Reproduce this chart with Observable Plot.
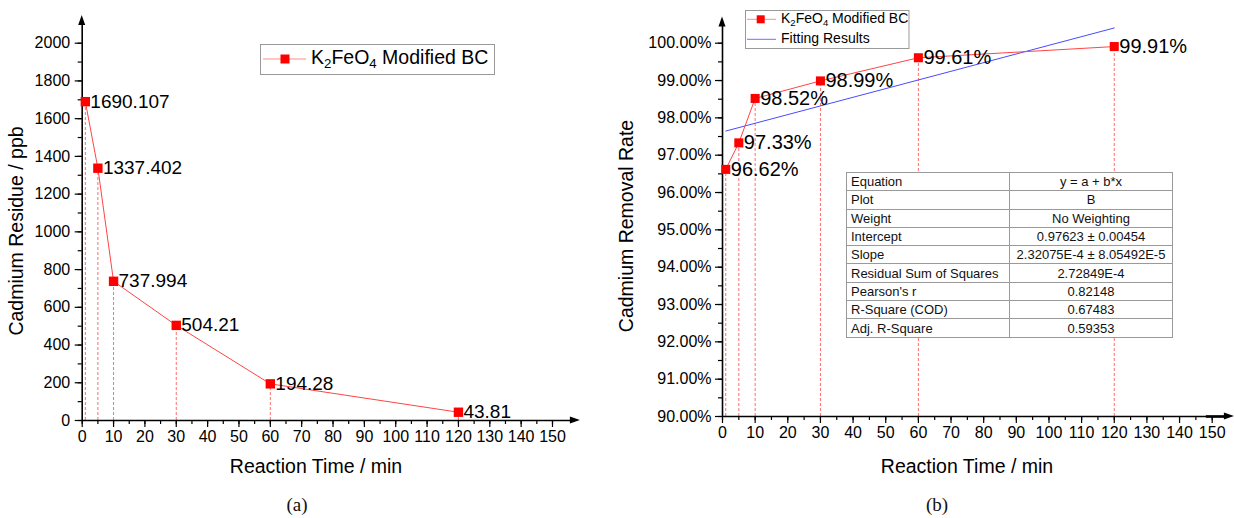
<!DOCTYPE html>
<html>
<head>
<meta charset="utf-8">
<script src="https://cdn.jsdelivr.net/npm/d3@7"></script>
<script src="https://cdn.jsdelivr.net/npm/@observablehq/plot@0.6"></script>
<style>
  body { margin: 0; background: #fff; }
  #wrap { position: relative; width: 1234px; height: 518px; background: #fff; font-family: 'Liberation Sans', Arial, sans-serif; overflow: hidden; }
  .panel { position: absolute; top: 0; }
  .cap { position: absolute; width: 100px; text-align: center; font-family: 'Liberation Serif', 'DejaVu Serif', serif; font-size: 19px; line-height: 24px; color: #111; }
  #fitTable { position: absolute; left: 846px; top: 172px; width: 326px; border-collapse: collapse; table-layout: fixed; background: #fff; font-family: 'Liberation Sans', Arial, sans-serif; font-size: 13px; color: #111; border: 1.5px solid #8a8a8a; }
  #fitTable td { border: 1px solid #9a9a9a; padding: 0 4px; height: 17.3px; line-height: 17px; white-space: nowrap; overflow: hidden; }
  #fitTable td.v { text-align: center; }
</style>
</head>
<body>
<div id="wrap">
  <div id="panelA" class="panel" style="left:0px"></div>
  <div id="panelB" class="panel" style="left:617px"></div>
  <div class="cap" style="left:247px; top:493px">(a)</div>
  <div class="cap" style="left:887px; top:493px">(b)</div>
</div>
<script>
// ---------------- data ----------------
const timeMin = [1, 5, 10, 30, 60, 120];
const residuePpb = [1690.107, 1337.402, 737.994, 504.21, 194.28, 43.81];
const removalPct = [96.62, 97.33, 98.52, 98.99, 99.61, 99.91];
const fitIntercept = 0.97623;
const fitSlope = 2.32075e-4;
const fitRange = [1, 120];

const xTicks = d3.range(0, 151, 10);
const xMinorTicks = d3.range(0, 151, 5);
const yTicksA = d3.range(0, 2001, 200);
const yMinorA = d3.range(0, 2001, 100);
const yTicksB = d3.range(90, 100.001, 1);
const yMinorB = d3.range(90, 100.001, 0.5);

const seriesName = ["K", "2", "FeO", "4", " Modified BC"];
const fitName = "Fitting Results";
const xTitle = "Reaction Time / min";
const yTitleA = "Cadmium Residue / ppb";
const yTitleB = "Cadmium Removal Rate";

const tableLabels = ["Equation", "Plot", "Weight", "Intercept", "Slope", "Residual Sum of Squares", "Pearson's r", "R-Square (COD)", "Adj. R-Square"];
const tableValues = ["y = a + b*x", "B", "No Weighting", "0.97623 ± 0.00454", "2.32075E-4 ± 8.05492E-5", "2.72849E-4", "0.82148", "0.67483", "0.59353"];

// ---------------- helpers ----------------
const FONT = "'Liberation Sans', Arial, sans-serif";
const RED = "#ff0000";
const LINE_RED = "#ff4545";
const DROP_RED = "#ff6e6e";
const BLUE = "#4a4aff";

function arrowUp(svg, x, y) {
  svg.append("path").attr("d", `M${x},${y} L${x - 3.5},${y + 10} L${x + 3.5},${y + 10} Z`).attr("fill", "#000");
}
function arrowRight(svg, x, y) {
  svg.append("path").attr("d", `M${x},${y} L${x - 10},${y - 3.5} L${x - 10},${y + 3.5} Z`).attr("fill", "#000");
}
function seriesText(g, x, y, size) {
  const t = g.append("text").attr("x", x).attr("y", y).attr("dominant-baseline", "middle")
    .attr("text-anchor", "start")
    .attr("font-family", FONT).attr("font-size", size).attr("fill", "#000");
  const sub = size * 0.68, shift = size * 0.28;
  t.append("tspan").text(seriesName[0]);
  t.append("tspan").attr("font-size", sub).attr("dy", shift).text(seriesName[1]);
  t.append("tspan").attr("dy", -shift).text(seriesName[2]);
  t.append("tspan").attr("font-size", sub).attr("dy", shift).text(seriesName[3]);
  t.append("tspan").attr("dy", -shift).text(seriesName[4]);
}
function titles(svg, yx, yy, xx, xy, yText) {
  svg.append("text").attr("transform", `translate(${yx},${yy}) rotate(-90)`)
    .attr("text-anchor", "middle").attr("dominant-baseline", "middle")
    .attr("font-family", FONT).attr("font-size", 19.5).attr("fill", "#000").text(yText);
  svg.append("text").attr("x", xx).attr("y", xy)
    .attr("text-anchor", "middle").attr("dominant-baseline", "middle")
    .attr("font-family", FONT).attr("font-size", 19.5).attr("fill", "#000").text(xTitle);
}

const plotStyle = { fontFamily: FONT, fontSize: "16px", color: "#000", background: "transparent", overflow: "visible" };

// ---------------- chart (a) ----------------
const dataA = timeMin.map((t, i) => ({ t, v: residuePpb[i] }));
const chartA = Plot.plot({
  width: 617, height: 485,
  marginLeft: 81.7, marginRight: 65, marginTop: 42.7, marginBottom: 65,
  style: plotStyle,
  x: { domain: [0, 150] },
  y: { domain: [0, 2000] },
  marks: [
    Plot.ruleX(dataA, { x: "t", y1: 0, y2: "v", stroke: DROP_RED, strokeWidth: 1, strokeDasharray: "3,2" }),
    Plot.line(dataA, { x: "t", y: "v", stroke: LINE_RED, strokeWidth: 1 }),
    Plot.axisX(xTicks, { tickSize: 7, tickPadding: 3, label: null, strokeWidth: 1.2 }),
    Plot.axisX(xMinorTicks, { tickSize: 4, tickFormat: () => "", label: null, strokeWidth: 1.2 }),
    Plot.axisY(yTicksA, { tickSize: 7, tickPadding: 5, label: null, strokeWidth: 1.2, tickFormat: d => String(d) }),
    Plot.axisY(yMinorA, { tickSize: 4, tickFormat: () => "", label: null, strokeWidth: 1.2 }),
    Plot.ruleY([0], { x1: 0, x2: 156, stroke: "#000", strokeWidth: 1.6 }),
    Plot.ruleX([0], { y1: 0, y2: 2110, stroke: "#000", strokeWidth: 1.6 }),
    Plot.dot(dataA, { x: "t", y: "v", symbol: "square", r: 5.3, fill: RED }),
    Plot.text(dataA, { x: "t", y: "v", text: d => String(d.v), textAnchor: "start", dx: 5, fontSize: 19, fill: "#000" })
  ]
});
document.getElementById("panelA").appendChild(chartA);
{
  const svg = d3.select(chartA);
  const sx = chartA.scale("x"), sy = chartA.scale("y");
  arrowUp(svg, sx.apply(0), sy.apply(2147));
  arrowRight(svg, sx.apply(158.9), sy.apply(0));
  titles(svg, 18, 231, 316, 468, yTitleA);
  const lg = svg.append("g");
  lg.append("rect").attr("x", 260.5).attr("y", 44.5).attr("width", 234).attr("height", 30)
    .attr("fill", "#fff").attr("stroke", "#999").attr("stroke-width", 1);
  lg.append("line").attr("x1", 263).attr("x2", 306).attr("y1", 59).attr("y2", 59).attr("stroke", "#ff8a8a").attr("stroke-width", 1);
  lg.append("rect").attr("x", 280.5).attr("y", 54.5).attr("width", 9).attr("height", 9).attr("fill", RED);
  seriesText(lg, 311, 59, 19.5);
}

// ---------------- chart (b) ----------------
const dataB = timeMin.map((t, i) => ({ t, v: removalPct[i] }));
const fitPts = fitRange.map(t => ({ t, v: 100 * (fitIntercept + fitSlope * t) }));
const chartB = Plot.plot({
  width: 617, height: 485,
  marginLeft: 105, marginRight: 22.3, marginTop: 42.7, marginBottom: 69,
  style: plotStyle,
  x: { domain: [0, 150] },
  y: { domain: [90, 100] },
  marks: [
    Plot.ruleX(dataB, { x: "t", y1: 90, y2: "v", stroke: DROP_RED, strokeWidth: 1, strokeDasharray: "3,2" }),
    Plot.line(fitPts, { x: "t", y: "v", stroke: BLUE, strokeWidth: 1 }),
    Plot.line(dataB, { x: "t", y: "v", stroke: LINE_RED, strokeWidth: 1 }),
    Plot.axisX(xTicks, { tickSize: 7, tickPadding: 3, label: null, strokeWidth: 1.2 }),
    Plot.axisX(xMinorTicks, { tickSize: 4, tickFormat: () => "", label: null, strokeWidth: 1.2 }),
    Plot.axisY(yTicksB, { tickSize: 7, tickPadding: 4, label: null, strokeWidth: 1.2, tickFormat: d => d.toFixed(2) + "%" }),
    Plot.axisY(yMinorB, { tickSize: 4, tickFormat: () => "", label: null, strokeWidth: 1.2 }),
    Plot.ruleY([90], { x1: 0, x2: 154, stroke: "#000", strokeWidth: 1.6 }),
    Plot.ruleY([90], { x1: 148.2, x2: 154, stroke: "#000", strokeWidth: 2.6 }),
    Plot.ruleX([0], { y1: 90, y2: 100.45, stroke: "#000", strokeWidth: 1.6 }),
    Plot.dot(dataB, { x: "t", y: "v", symbol: "square", r: 5.1, fill: RED }),
    Plot.text(dataB, { x: "t", y: "v", text: d => d.v.toFixed(2) + "%", textAnchor: "start", dx: 5, fontSize: 20, fill: "#000" })
  ]
});
document.getElementById("panelB").appendChild(chartB);
{
  const svg = d3.select(chartB);
  const sx = chartB.scale("x"), sy = chartB.scale("y");
  arrowUp(svg, sx.apply(0), sy.apply(100.7));
  arrowRight(svg, sx.apply(156.8), sy.apply(90));
  titles(svg, 11, 226, 350, 468, yTitleB);
  const lg = svg.append("g");
  lg.append("rect").attr("x", 128.5).attr("y", 10.5).attr("width", 163.5).attr("height", 38)
    .attr("fill", "#fff").attr("stroke", "#999").attr("stroke-width", 1);
  lg.append("line").attr("x1", 130).attr("x2", 159).attr("y1", 19.3).attr("y2", 19.3).attr("stroke", "#ff8a8a").attr("stroke-width", 1);
  lg.append("rect").attr("x", 139.7).attr("y", 15.3).attr("width", 8).attr("height", 8).attr("fill", RED);
  seriesText(lg, 164, 19.3, 14);
  lg.append("line").attr("x1", 130).attr("x2", 159).attr("y1", 39.3).attr("y2", 39.3).attr("stroke", "#7070ff").attr("stroke-width", 1);
  lg.append("text").attr("x", 164).attr("y", 39.3).attr("dominant-baseline", "middle").attr("text-anchor", "start")
    .attr("font-family", FONT).attr("font-size", 14).attr("fill", "#000").text(fitName);
}

// ---------------- fit table ----------------
{
  const table = d3.select("#wrap").append("table").attr("id", "fitTable");
  const cg = table.append("colgroup");
  cg.append("col").style("width", "163px");
  cg.append("col").style("width", "163px");
  const tb = table.append("tbody");
  tableLabels.forEach((lab, i) => {
    const tr = tb.append("tr");
    tr.append("td").text(lab);
    tr.append("td").attr("class", "v").text(tableValues[i]);
  });
}
</script>
</body>
</html>
